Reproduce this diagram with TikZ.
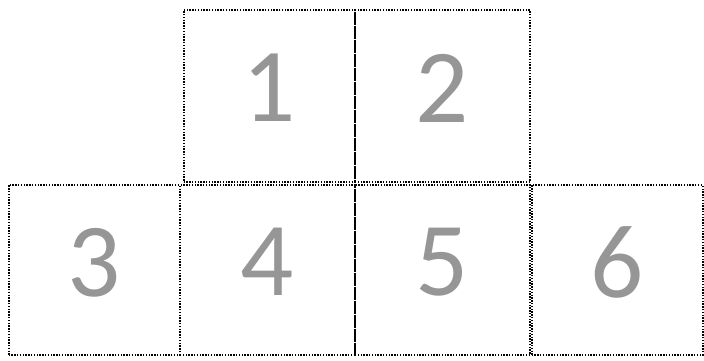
\documentclass[tikz,border=0pt]{standalone}
\usepackage{fontspec}
\setmainfont{Carlito}
\usepackage{tikz}
\usetikzlibrary{positioning}
\definecolor{digitgray}{RGB}{150,150,150}

\begin{document}
\begin{tikzpicture}[
  x=1pt, y=1pt,
  cell/.style={rectangle, draw=black, line width=2pt, dash pattern=on 1.4pt off 1.4pt,
    inner sep=0pt, minimum height=172pt, text depth=16pt, text=digitgray,
    font=\fontsize{105}{105}\selectfont},
  wide/.style={cell, minimum width=175pt},
  narrow/.style={cell, minimum width=171pt}
  ]
  \useasboundingbox (0,0) rectangle (704,360);
  % top row
  \node[narrow] (c1) at (269,264) {1};
  \node[wide] (c2) at (442.5,264) {2};
  % bottom row
  \node[narrow, minimum height=170pt] (c3) at (94,90) {3};
  \node[wide, minimum height=170pt] (c4) at (267.5,90) {4};
  \node[wide, minimum height=170pt] (c5) at (442.5,90) {5};
  \node[narrow, minimum height=170pt] (c6) at (617,90) {6};
\end{tikzpicture}
\end{document}
